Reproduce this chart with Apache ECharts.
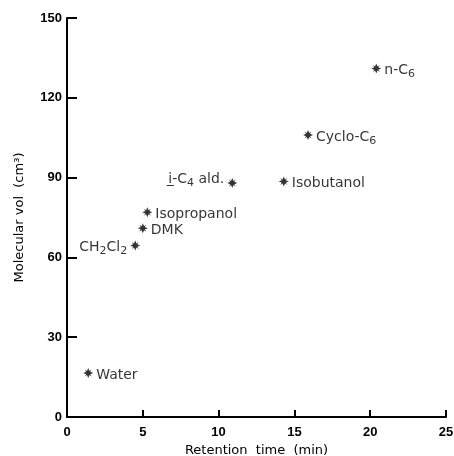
<!DOCTYPE html>
<html>
<head>
<meta charset="utf-8">
<script src="https://cdn.jsdelivr.net/npm/echarts@6/dist/echarts.min.js"></script>
</head>
<body style="margin:0; background:#fff">
<div id="chart" style="width:454px; height:456px"></div>
<script>
// compounds ({s|..} marks a subscript)
var names = ['Water', 'CH{s|2}Cl{s|2}', 'DMK', 'Isopropanol', 'i̲-C{s|4} ald.', 'Isobutanol', 'Cyclo-C{s|6}', 'n-C{s|6}'];
var retention = [1.4, 4.5, 5.0, 5.3, 10.9, 14.3, 15.9, 20.4];
var molVol = [16.5, 64.5, 71, 77, 88, 88.5, 106, 131];
var leftLabels = ['CH{s|2}Cl{s|2}', 'i̲-C{s|4} ald.'];

var xTicks = [0, 5, 10, 15, 20, 25];
var yTicks = [0, 30, 60, 90, 120, 150];

var star = 'path://M0,-10 L2.5,-4 L7,-7 L4,-2.5 L10,0 L4,2.5 L7,7 L2.5,4 L0,10 L-2.5,4 L-7,7 L-4,2.5 L-10,0 L-4,-2.5 L-7,-7 L-2.5,-4 Z';

var points = [];
for (var i = 0; i < names.length; i++) {
  var isLeft = leftLabels.indexOf(names[i]) >= 0;
  points.push({
    name: names[i],
    value: [retention[i], molVol[i]],
    label: {
      position: isLeft ? 'left' : 'right',
      offset: i === 4 ? [0, -4] : [0, 2]
    }
  });
}

var chart = echarts.init(document.getElementById('chart'));
var axisFont = {color: '#000', fontFamily: 'Liberation Sans', fontWeight: 'bold', fontSize: 13};

chart.setOption({
  animation: false,
  grid: {left: 67, right: 8, top: 18, bottom: 39, containLabel: false, outerBoundsMode: 'none'},
  xAxis: {
    type: 'value', min: 0, max: 25, interval: 5,
    name: 'Retention  time  (min)', nameLocation: 'middle', nameGap: 25,
    nameTextStyle: {color: '#000', fontFamily: 'DejaVu Sans', fontSize: 13},
    axisLine: {lineStyle: {color: '#000', width: 2}},
    axisTick: {inside: true, length: 7, lineStyle: {color: '#000', width: 2}},
    axisLabel: Object.assign({margin: 9, formatter: function (v) { return xTicks.indexOf(v) >= 0 ? v : ''; }}, axisFont),
    splitLine: {show: false}
  },
  yAxis: {
    type: 'value', min: 0, max: 150, interval: 30,
    name: 'Molecular vol  (cm³)', nameLocation: 'middle', nameGap: 41,
    nameTextStyle: {color: '#000', fontFamily: 'DejaVu Sans', fontSize: 13},
    axisLine: {lineStyle: {color: '#000', width: 2}},
    axisTick: {inside: true, length: 10, lineStyle: {color: '#000', width: 2}},
    axisLabel: Object.assign({margin: 5, formatter: function (v) { return yTicks.indexOf(v) >= 0 ? v : ''; }}, axisFont),
    splitLine: {show: false}
  },
  series: [{
    type: 'scatter',
    symbol: star,
    symbolSize: 10,
    itemStyle: {color: '#000'},
    label: {
      show: true,
      formatter: '{b}',
      distance: 3,
      color: '#000',
      fontFamily: 'DejaVu Sans',
      fontSize: 14,
      lineHeight: 19,
      rich: {
        s: {color: '#000', fontFamily: 'DejaVu Sans', fontSize: 11, lineHeight: 11, verticalAlign: 'bottom'}
      }
    },
    data: points
  }]
});
</script>
</body>
</html>
